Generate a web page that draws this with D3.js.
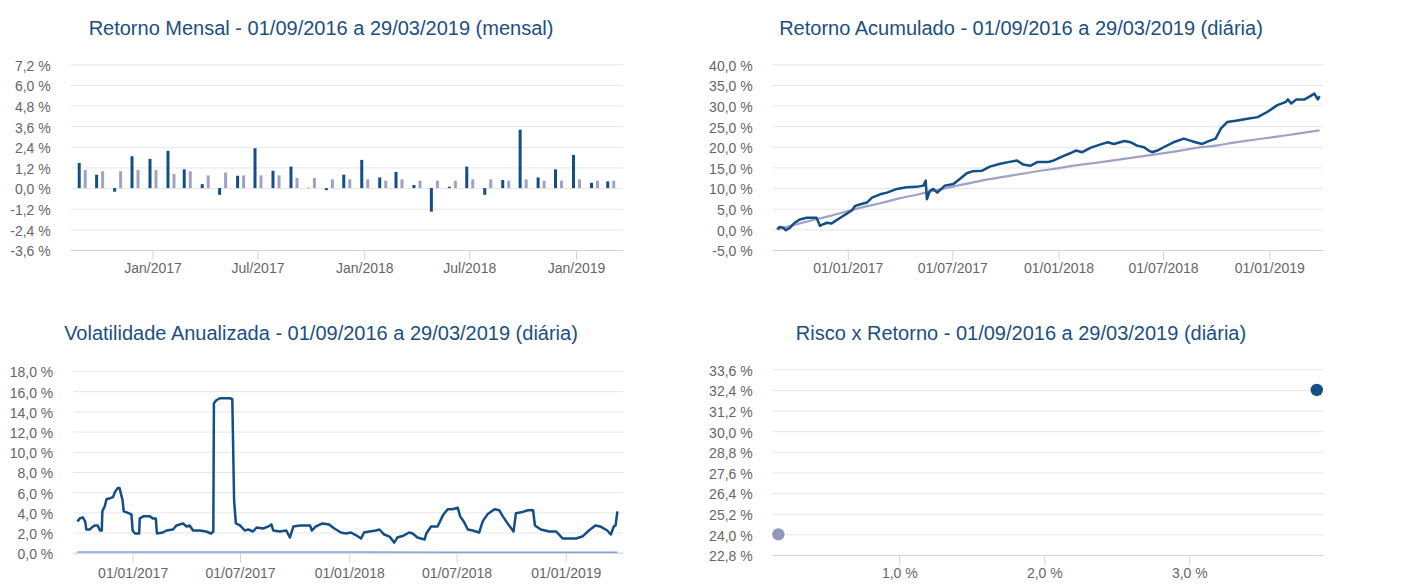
<!DOCTYPE html>
<html>
<head>
<meta charset="utf-8">
<script src="https://cdn.jsdelivr.net/npm/d3@7"></script>
<style>
  html, body { margin: 0; padding: 0; background: #ffffff; }
  svg { display: block; font-family: "Liberation Sans", Arial, sans-serif; }
</style>
</head>
<body>
<svg id="chart" width="1404" height="585"></svg>
<script>
// ---------------- DATA ----------------
const titles = [
  "Retorno Mensal - 01/09/2016 a 29/03/2019 (mensal)",
  "Retorno Acumulado - 01/09/2016 a 29/03/2019 (diária)",
  "Volatilidade Anualizada - 01/09/2016 a 29/03/2019 (diária)",
  "Risco x Retorno - 01/09/2016 a 29/03/2019 (diária)"
];

// Monthly returns (%)
const months = ["2016-09","2016-10","2016-11","2016-12","2017-01","2017-02","2017-03","2017-04","2017-05","2017-06",
  "2017-07","2017-08","2017-09","2017-10","2017-11","2017-12","2018-01","2018-02","2018-03","2018-04","2018-05",
  "2018-06","2018-07","2018-08","2018-09","2018-10","2018-11","2018-12","2019-01","2019-02","2019-03"];
const fundMonthly = [1.46, 0.78, -0.21, 1.85, 1.70, 2.17, 1.09, 0.23, -0.39, 0.72, 2.32, 1.01, 1.25, 0.02, -0.12, 0.78,
  1.64, 0.62, 0.94, 0.18, -1.37, 0.08, 1.25, -0.39, 0.47, 3.40, 0.62, 1.09, 1.93, 0.31, 0.39];
const benchMonthly = [1.05, 0.98, 0.98, 1.05, 1.05, 0.82, 0.98, 0.74, 0.90, 0.74, 0.74, 0.74, 0.59, 0.59, 0.51, 0.51,
  0.51, 0.43, 0.51, 0.43, 0.43, 0.43, 0.51, 0.51, 0.43, 0.51, 0.43, 0.43, 0.51, 0.43, 0.43];
const monthlyTicks = ["2017-01-01","2017-07-01","2018-01-01","2018-07-01","2019-01-01"];
const monthlyTickLabels = ["Jan/2017","Jul/2017","Jan/2018","Jul/2018","Jan/2019"];

// Cumulative return (%)
const cumFundDates = ["2016-09-01","2016-09-05","2016-09-11","2016-09-16","2016-09-23","2016-10-01","2016-10-10","2016-10-22",
  "2016-10-30","2016-11-08","2016-11-14","2016-11-17","2016-11-26","2016-12-04","2016-12-10","2016-12-19","2016-12-30",
  "2017-01-08","2017-01-14","2017-01-23","2017-02-03","2017-02-12","2017-02-26","2017-03-10","2017-03-27","2017-04-13",
  "2017-04-30","2017-05-12","2017-05-16","2017-05-18","2017-05-23","2017-05-29","2017-06-05","2017-06-18","2017-07-03",
  "2017-07-14","2017-07-26","2017-08-06","2017-08-21","2017-09-04","2017-09-22","2017-10-06","2017-10-21","2017-11-01",
  "2017-11-13","2017-11-25","2017-12-13","2017-12-24","2018-01-05","2018-01-22","2018-01-31","2018-02-11","2018-02-26",
  "2018-03-15","2018-03-27","2018-04-07","2018-04-25","2018-05-06","2018-05-17","2018-05-29","2018-06-06","2018-06-12",
  "2018-06-21","2018-07-02","2018-07-19","2018-08-06","2018-08-17","2018-08-26","2018-09-07","2018-09-18","2018-09-30",
  "2018-10-09","2018-10-20","2018-11-07","2018-11-24","2018-12-12","2018-12-29","2019-01-15","2019-01-30","2019-02-02",
  "2019-02-08","2019-02-17","2019-03-03","2019-03-11","2019-03-20","2019-03-26","2019-03-29"];
const cumFundValues = [0.0, 0.6, 0.4, -0.2, 0.4, 1.6, 2.4, 2.8, 2.8, 2.8, 0.8, 1.1, 1.6, 1.4, 2.0, 2.8, 3.8,
  4.6, 5.7, 6.1, 6.5, 7.7, 8.5, 8.9, 9.8, 10.2, 10.3, 10.6, 11.8, 7.3, 9.3, 9.8, 8.9, 10.6, 11.0,
  12.2, 13.6, 14.1, 14.2, 15.2, 15.9, 16.3, 16.7, 15.7, 15.4, 16.3, 16.3, 16.7, 17.5, 18.5, 19.1, 18.7, 19.8,
  20.6, 21.1, 20.7, 21.4, 21.1, 20.3, 19.9, 19.1, 18.7, 19.1, 19.9, 21.1, 22.0, 21.5, 21.1, 20.7, 21.4, 22.0,
  24.4, 26.0, 26.4, 26.8, 27.2, 28.5, 30.1, 30.9, 31.5, 30.5, 31.5, 31.5, 32.1, 32.9, 31.5, 32.3];
const cumBenchDates = ["2016-09-01","2016-09-30","2016-10-31","2016-11-30","2016-12-31","2017-01-31","2017-02-28","2017-03-31",
  "2017-04-30","2017-05-31","2017-06-30","2017-07-31","2017-08-31","2017-09-30","2017-10-31","2017-11-30","2017-12-31",
  "2018-01-31","2018-02-28","2018-03-31","2018-04-30","2018-05-31","2018-06-30","2018-07-31","2018-08-31","2018-09-30",
  "2018-10-31","2018-11-30","2018-12-31","2019-01-31","2019-02-28","2019-03-29"];
const cumBenchValues = [0.0, 1.1, 2.2, 3.2, 4.4, 5.5, 6.4, 7.5, 8.4, 9.4, 10.3, 11.2, 12.1, 12.8, 13.5, 14.2, 14.8,
  15.5, 16.0, 16.6, 17.2, 17.8, 18.4, 19.1, 19.8, 20.3, 21.0, 21.6, 22.2, 22.8, 23.4, 24.0];
const dailyTicks = ["2017-01-01","2017-07-01","2018-01-01","2018-07-01","2019-01-01"];
const dailyTickLabels = ["01/01/2017","01/07/2017","01/01/2018","01/07/2018","01/01/2019"];

// Annualized volatility (%)
const volFundDates = ["2016-09-30","2016-10-04","2016-10-09","2016-10-13","2016-10-15","2016-10-21","2016-10-24","2016-10-29",
  "2016-11-03","2016-11-07","2016-11-10","2016-11-11","2016-11-15","2016-11-18","2016-11-24","2016-11-29","2016-12-02",
  "2016-12-07","2016-12-10","2016-12-15","2016-12-17","2016-12-22","2016-12-30","2017-01-01","2017-01-05","2017-01-12",
  "2017-01-13","2017-01-19","2017-01-30","2017-02-04","2017-02-09","2017-02-11","2017-02-21","2017-02-27","2017-03-10",
  "2017-03-16","2017-03-27","2017-04-02","2017-04-07","2017-04-13","2017-04-24","2017-05-05","2017-05-13","2017-05-17",
  "2017-05-18","2017-05-22","2017-05-28","2017-06-14","2017-06-18","2017-06-21","2017-06-24","2017-07-01","2017-07-09",
  "2017-07-15","2017-07-23","2017-07-29","2017-08-09","2017-08-18","2017-08-23","2017-08-26","2017-09-06","2017-09-17",
  "2017-09-23","2017-09-29","2017-10-10","2017-10-27","2017-10-30","2017-11-06","2017-11-17","2017-11-28","2017-12-07",
  "2017-12-18","2017-12-27","2018-01-04","2018-01-12","2018-01-21","2018-01-26","2018-02-04","2018-02-15","2018-02-21",
  "2018-03-01","2018-03-10","2018-03-18","2018-03-23","2018-04-01","2018-04-12","2018-04-18","2018-04-26","2018-05-08",
  "2018-05-11","2018-05-19","2018-05-30","2018-06-08","2018-06-16","2018-06-24","2018-07-03","2018-07-07","2018-07-13",
  "2018-07-20","2018-07-28","2018-08-08","2018-08-14","2018-08-22","2018-09-03","2018-09-11","2018-09-17","2018-09-25",
  "2018-10-05","2018-10-09","2018-10-18","2018-10-29","2018-11-07","2018-11-10","2018-11-20","2018-12-04","2018-12-16",
  "2018-12-27","2019-01-07","2019-01-18","2019-01-29","2019-02-09","2019-02-20","2019-02-28","2019-03-12","2019-03-18",
  "2019-03-23","2019-03-26","2019-03-29"];
const volFundValues = [3.1, 3.4, 3.5, 3.1, 2.3, 2.3, 2.5, 2.7, 2.7, 2.2, 2.2, 4.1, 4.6, 5.3, 5.4, 5.5, 6.0,
  6.4, 6.4, 5.2, 4.1, 4.0, 3.8, 2.2, 1.9, 1.9, 3.4, 3.6, 3.6, 3.4, 3.4, 1.9, 2.0, 2.2, 2.3,
  2.7, 2.9, 2.6, 2.7, 2.2, 2.2, 2.1, 1.9, 2.1, 14.8, 15.1, 15.3, 15.3, 15.2, 5.2, 2.9, 2.7, 2.2,
  2.3, 2.1, 2.5, 2.4, 2.6, 2.8, 2.2, 2.1, 2.2, 1.5, 2.6, 2.7, 2.7, 2.2, 2.6, 2.9, 2.8, 2.4,
  2.0, 1.9, 2.0, 1.75, 1.4, 2.0, 2.1, 2.2, 2.3, 1.8, 1.6, 1.0, 1.5, 1.65, 2.0, 1.9, 1.5, 1.3,
  1.9, 2.6, 2.6, 3.7, 4.3, 4.3, 4.45, 3.6, 3.1, 2.3, 2.2, 2.0, 3.1, 3.8, 4.3, 4.2, 3.6, 2.9,
  2.1, 3.9, 4.0, 4.2, 4.2, 2.7, 2.3, 2.1, 2.1, 1.4, 1.4, 1.4, 1.6, 2.2, 2.7, 2.6, 2.2, 1.8,
  2.6, 2.7, 4.1];
const volBenchDates = ["2016-09-30","2017-01-01","2017-07-01","2018-01-01","2018-07-01","2019-01-01","2019-03-29"];
const volBenchValues = [0.08, 0.08, 0.07, 0.06, 0.05, 0.05, 0.05];

// Risk x return
const riskNames = ["Benchmark", "Fundo"];
const riskVol = [0.166, 3.879];
const riskRet = [24.0, 32.4];
const riskXTicks = [1, 2, 3];

// ---------------- STYLE ----------------
const DARK = "#134e86";
const LIGHT = "#a0a1c6";
const POINT_LIGHT = "#8f98bb";
const GRID = "#e6e6e6";
const AXIS = "#ccd6eb";
const LABEL = "#666666";
const TITLE = "#1c4f7f";

const parse = d3.timeParse("%Y-%m-%d");
const parseM = d3.timeParse("%Y-%m");
const pct = v => (Math.round(v * 10) / 10).toFixed(1).replace(".", ",") + " %";
const svg = d3.select("#chart");

function yAxis(g, y, ticks, x0, x1) {
  const ax = g.append("g").attr("transform", `translate(${x0},0)`)
    .call(d3.axisLeft(y).tickValues(ticks).tickFormat(pct).tickSize(-(x1 - x0)).tickPadding(20));
  ax.select(".domain").remove();
  ax.selectAll(".tick line").attr("stroke", GRID).attr("stroke-width", 1);
  ax.selectAll(".tick text").attr("fill", LABEL).attr("dy", "0.42em").style("font-size", "14px")
    .style("font-family", '"Liberation Sans", Arial, sans-serif');
}
function xAxis(g, x, ticks, fmt, yPos, pad) {
  const ax = g.append("g").attr("transform", `translate(0,${yPos})`)
    .call(d3.axisBottom(x).tickValues(ticks).tickFormat(fmt).tickSize(10).tickSizeOuter(0).tickPadding(pad));
  ax.select(".domain").attr("stroke", AXIS).attr("stroke-width", 1);
  ax.selectAll(".tick line").attr("stroke", AXIS);
  ax.selectAll(".tick text").attr("fill", LABEL).style("font-size", "14px")
    .style("font-family", '"Liberation Sans", Arial, sans-serif');
}
function title(text, cx, y) {
  svg.append("text").attr("x", cx).attr("y", y).attr("text-anchor", "middle")
    .attr("fill", TITLE).style("font-size", "20px").text(text);
}
const stepTicks = (start, step, n) => d3.range(n).map(i => Math.round((start + i * step) * 10) / 10);

// ---------------- CHART 1: monthly bars ----------------
{
  const g = svg.append("g");
  const x0 = 70.7, x1 = 623;
  const x = d3.scaleTime().domain([parse("2016-08-13"), parse("2019-03-23")]).range([x0, x1]);
  const y = d3.scaleLinear().domain([-3.6, 7.2]).range([250, 64.3]);
  yAxis(g, y, stepTicks(-3.6, 1.2, 10), x0, x1);
  const bw = 3;
  const pts = months.map((m, i) => ({ d: parseM(m), f: fundMonthly[i], b: benchMonthly[i] }));
  g.append("g").selectAll("rect").data(pts).join("rect")
    .attr("x", d => x(d.d) - 1 - bw / 2 - 1.5)
    .attr("width", bw)
    .attr("y", d => y(Math.max(0, d.f)))
    .attr("height", d => Math.abs(y(d.f) - y(0)))
    .attr("fill", DARK);
  g.append("g").selectAll("rect").data(pts).join("rect")
    .attr("x", d => x(d.d) + 4 - bw / 2 - 0.5)
    .attr("width", bw)
    .attr("y", d => y(Math.max(0, d.b)))
    .attr("height", d => Math.abs(y(d.b) - y(0)))
    .attr("fill", LIGHT);
  xAxis(g, x, monthlyTicks.map(parse), (d, i) => monthlyTickLabels[i], 250, 3.5);
  title(titles[0], 321, 35);
}

// ---------------- CHART 2: cumulative ----------------
{
  const g = svg.append("g");
  const x0 = 772.7, x1 = 1323;
  const x = d3.scaleTime().domain([parse("2016-08-24"), parse("2019-04-04")]).range([x0, x1]);
  const y = d3.scaleLinear().domain([-5, 40]).range([250, 64.3]);
  yAxis(g, y, stepTicks(-5, 5, 10), x0, x1);
  xAxis(g, x, dailyTicks.map(parse), (d, i) => dailyTickLabels[i], 250, 3.5);
  const line = d3.line().x(d => x(d[0])).y(d => y(d[1]));
  g.append("path").datum(cumBenchDates.map((d, i) => [parse(d), cumBenchValues[i]]))
    .attr("d", line.curve(d3.curveMonotoneX)).attr("fill", "none").attr("stroke", LIGHT).attr("stroke-width", 2.2);
  g.append("path").datum(cumFundDates.map((d, i) => [parse(d), cumFundValues[i]]))
    .attr("d", line.curve(d3.curveLinear)).attr("fill", "none").attr("stroke", DARK).attr("stroke-width", 2.5)
    .attr("stroke-linejoin", "round");
  title(titles[1], 1021, 35);
}

// ---------------- CHART 3: volatility ----------------
{
  const g = svg.append("g");
  const x0 = 73.3, x1 = 623.3;
  const x = d3.scaleTime().domain([parse("2016-09-23"), parse("2019-04-08")]).range([x0, x1]);
  const y = d3.scaleLinear().domain([0, 18]).range([552.7, 371]);
  yAxis(g, y, stepTicks(0, 2, 10), x0, x1);
  xAxis(g, x, dailyTicks.map(parse), (d, i) => dailyTickLabels[i], 552.7, 5.5);
  const line = d3.line().x(d => x(d[0])).y(d => y(d[1]));
  g.append("path").datum(volBenchDates.map((d, i) => [parse(d), volBenchValues[i]]))
    .attr("d", line).attr("fill", "none").attr("stroke", "#8c9fd6").attr("stroke-width", 1.5);
  g.append("path").datum(volFundDates.map((d, i) => [parse(d), volFundValues[i]]))
    .attr("d", line).attr("fill", "none").attr("stroke", DARK).attr("stroke-width", 2.5)
    .attr("stroke-linejoin", "round");
  title(titles[2], 321, 340);
}

// ---------------- CHART 4: risk x return ----------------
{
  const g = svg.append("g");
  const x0 = 772.7, x1 = 1323.3;
  const x = d3.scaleLinear().domain([0.127, 3.924]).range([x0, x1]);
  const y = d3.scaleLinear().domain([22.8, 33.6]).range([555, 369.3]);
  yAxis(g, y, stepTicks(22.8, 1.2, 10), x0, x1);
  xAxis(g, x, riskXTicks, pct, 555, 3.5);
  g.append("g").selectAll("circle").data(riskNames.map((n, i) => ({ n, v: riskVol[i], r: riskRet[i] })))
    .join("circle")
    .attr("cx", d => x(d.v)).attr("cy", d => y(d.r)).attr("r", 6.2)
    .attr("fill", (d, i) => i === 0 ? POINT_LIGHT : DARK);
  title(titles[3], 1021, 340);
}
</script>
</body>
</html>
